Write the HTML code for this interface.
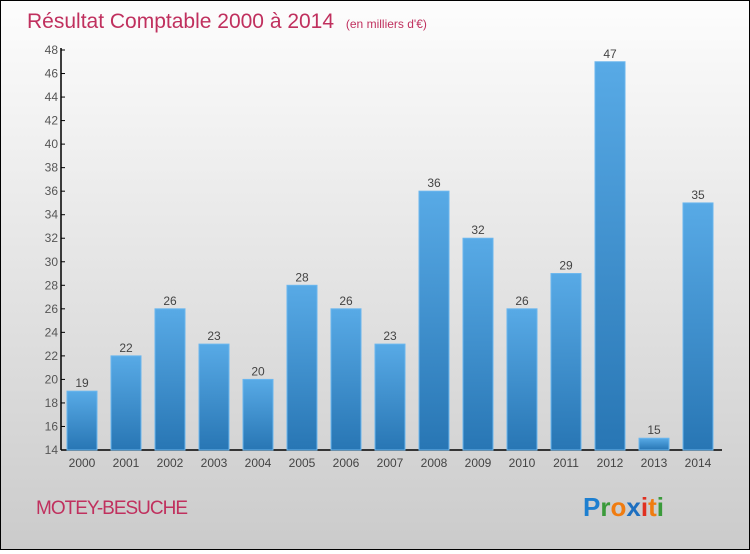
<!DOCTYPE html>
<html><head><meta charset="utf-8"><style>
body{margin:0}
#c{width:748px;height:548px;border:1px solid #000;background:linear-gradient(#fdfdfd,#cbcbcb);position:relative;font-family:"Liberation Sans",sans-serif}
</style></head><body>
<div id="c">
<svg width="748" height="548" id="s">
<defs><linearGradient id="g" x1="0" y1="0" x2="0" y2="1"><stop offset="0" stop-color="#58aae6"/><stop offset="1" stop-color="#2876b4"/></linearGradient></defs>
<text x="26" y="27" font-size="21" fill="#c0305e">Résultat Comptable 2000 à 2014 <tspan font-size="12" dx="6">(en milliers d'€)</tspan></text>
<text x="35" y="513" font-size="19" fill="#c0305e" letter-spacing="-1">MOTEY-BESUCHE</text>
<g font-size="26" font-weight="bold" font-family="Liberation Sans,sans-serif">
<text x="582" y="515"><tspan fill="#1d7fd0">P</tspan><tspan fill="#3a9a3a">r</tspan><tspan fill="#f07c10">o</tspan><tspan fill="#1d6fc0">x</tspan><tspan fill="#e03020">i</tspan><tspan fill="#f07c10">t</tspan><tspan fill="#3a9a3a">i</tspan></text></g>
<g id="plot"></g>
</svg></div>
<script>
const years=["2000","2001","2002","2003","2004","2005","2006","2007","2008","2009","2010","2011","2012","2013","2014"];
const values=[19,22,26,23,20,28,26,23,36,32,26,29,47,15,35];
const ticks=[14,16,18,20,22,24,26,28,30,32,34,36,38,40,42,44,46,48];
const NS="http://www.w3.org/2000/svg",p=document.getElementById('plot');
const y=v=>449-(v-14)*(400/34);
const x=i=>81+i*44;
function mk(t,a,txt){const e=document.createElementNS(NS,t);for(const k in a)e.setAttribute(k,a[k]);if(txt!=null)e.textContent=txt;p.appendChild(e);return e;}
let ax=mk('line',{x1:60,y1:y(48)-2,x2:60,y2:449,stroke:'#000','stroke-width':1.5});


let xa=mk('line',{x1:60,y1:449,x2:721,y2:449,stroke:'#000','stroke-width':1.5});


ticks.forEach(t=>{
 let l=mk('line',{x1:60,y1:y(t),x2:64,y2:y(t),stroke:'#000'});
 
 
 let tx=mk('text',{x:57,y:y(t)+4,'font-size':12,fill:'#555','text-anchor':'end'},t);
 
 
});
values.forEach((v,i)=>{
 let r=mk('rect',{x:x(i)-15,y:y(v),width:30,height:449-y(v),fill:'url(#g)',stroke:'#6ab6ee','stroke-width':1});
 
 
 let vl=mk('text',{x:x(i),y:y(v)-4,'font-size':12,fill:'#444','text-anchor':'middle'},v);
 
 
 let xl=mk('text',{x:x(i),y:466,'font-size':12,fill:'#444','text-anchor':'middle'},years[i]);
 
 
});
</script>
</body></html>
